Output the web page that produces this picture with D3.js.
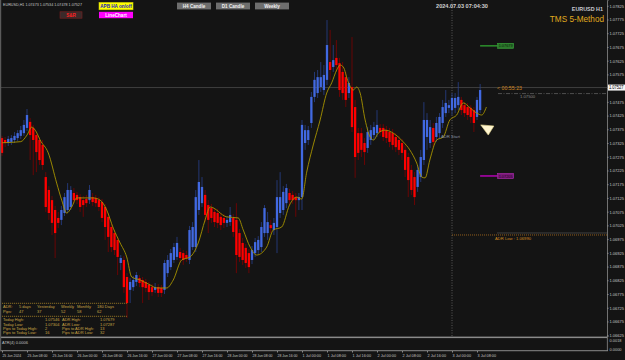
<!DOCTYPE html>
<meta charset="utf-8">
<style>

html, body {
  margin: 0;
  overflow: hidden;
  padding: 0;
  background: #141414;
}

svg {
  display: block;
}

text {
  font-family: "Liberation Sans", Arial, sans-serif;
}

</style>
<svg width="625" height="360"></svg>
<script src="https://d3js.org/d3.v7.min.js"></script>
<script>

// EURUSD H1 bars (APB / Heikin Ashi style), 25 Jun 00:00 .. 3 Jul 09:00
var barOpen = [1.07343,1.07336,1.07325,1.07329,1.07336,1.07343,1.07351,1.07361,1.07380,1.07402,
  1.07380,1.07354,1.07336,1.07318,1.07201,1.07154,1.07117,1.07081,1.07052,1.07045,
  1.07070,1.07081,1.07092,1.07143,1.07136,1.07128,1.07117,1.07121,1.07117,1.07128,
  1.07125,1.07117,1.07110,1.07092,1.07056,1.07019,1.06997,1.06972,1.06888,1.06899,
  1.06837,1.06790,1.06800,1.06819,1.06833,1.06826,1.06819,1.06808,1.06800,1.06790,
  1.06800,1.06797,1.06790,1.06851,1.06873,1.06899,1.06910,1.06928,1.06924,1.06917,
  1.06899,1.06946,1.06946,1.07081,1.07106,1.07136,1.07099,1.07088,1.07074,1.07070,
  1.07056,1.07052,1.07034,1.07037,1.07052,1.07045,1.06997,1.06961,1.06943,1.06924,
  1.06899,1.06924,1.06935,1.06946,1.06997,1.06997,1.07026,1.07008,1.07019,1.07070,
  1.07081,1.07106,1.07143,1.07136,1.07128,1.07117,1.07128,1.07325,1.07336,1.07398,
  1.07493,1.07507,1.07529,1.07518,1.07555,1.07620,1.07602,1.07635,1.07616,1.07584,
  1.07565,1.07507,1.07529,1.07456,1.07361,1.07361,1.07325,1.07307,1.07336,1.07354,
  1.07361,1.07380,1.07380,1.07372,1.07365,1.07361,1.07347,1.07336,1.07325,1.07300,
  1.07274,1.07227,1.07201,1.07165,1.07201,1.07263,1.07347,1.07325,1.07380,1.07347,
  1.07361,1.07398,1.07434,1.07453,1.07445,1.07453,1.07463,1.07482,1.07463,1.07456,
  1.07453,1.07445,1.07420,1.07445];
var barHigh = [1.07351,1.07347,1.07351,1.07354,1.07365,1.07372,1.07387,1.07409,1.07449,1.07416,
  1.07391,1.07365,1.07347,1.07336,1.07219,1.07168,1.07132,1.07096,1.07074,1.07096,
  1.07143,1.07179,1.07168,1.07161,1.07147,1.07139,1.07132,1.07136,1.07172,1.07143,
  1.07136,1.07128,1.07121,1.07103,1.07070,1.07034,1.07008,1.06983,1.06917,1.06913,
  1.06851,1.06833,1.06841,1.06855,1.06844,1.06837,1.06830,1.06819,1.06811,1.06815,
  1.06811,1.06808,1.06899,1.06917,1.06939,1.06961,1.06983,1.06943,1.06935,1.06932,
  1.07023,1.07037,1.07154,1.07263,1.07201,1.07154,1.07117,1.07103,1.07088,1.07085,
  1.07070,1.07066,1.07059,1.07092,1.07066,1.07106,1.07012,1.06979,1.06957,1.06939,
  1.06950,1.06979,1.06986,1.07037,1.07099,1.07074,1.07045,1.07052,1.07190,1.07219,
  1.07168,1.07176,1.07158,1.07150,1.07143,1.07143,1.07409,1.07391,1.07387,1.07511,
  1.07584,1.07591,1.07620,1.07609,1.07773,1.07737,1.07682,1.07700,1.07635,1.07620,
  1.07584,1.07565,1.07711,1.07482,1.07380,1.07380,1.07343,1.07383,1.07391,1.07402,
  1.07445,1.07394,1.07394,1.07387,1.07380,1.07376,1.07361,1.07351,1.07340,1.07318,
  1.07289,1.07245,1.07219,1.07245,1.07300,1.07474,1.07434,1.07409,1.07398,1.07420,
  1.07434,1.07482,1.07518,1.07482,1.07507,1.07507,1.07547,1.07493,1.07474,1.07471,
  1.07463,1.07456,1.07493,1.07540];
var barLow = [1.07278,1.07310,1.07314,1.07318,1.07325,1.07332,1.07340,1.07351,1.07369,1.07263,
  1.07208,1.07219,1.07245,1.07227,1.07074,1.07045,1.06990,1.06906,1.07015,1.07026,
  1.07059,1.07070,1.07081,1.07106,1.07103,1.07074,1.07056,1.07092,1.07103,1.07096,
  1.07092,1.07077,1.07037,1.06972,1.06928,1.06928,1.06917,1.06844,1.06862,1.06779,
  1.06688,1.06742,1.06786,1.06804,1.06800,1.06742,1.06782,1.06753,1.06768,1.06779,
  1.06764,1.06764,1.06775,1.06837,1.06862,1.06888,1.06899,1.06892,1.06881,1.06892,
  1.06884,1.06935,1.06928,1.07063,1.07092,1.07037,1.06997,1.07034,1.07019,1.07015,
  1.07008,1.07015,1.07019,1.07023,1.06983,1.06851,1.06892,1.06881,1.06870,1.06851,
  1.06884,1.06910,1.06921,1.06928,1.06983,1.06972,1.06997,1.06990,1.06924,1.07052,
  1.07063,1.07088,1.07099,1.07103,1.07056,1.07081,1.07081,1.07300,1.07318,1.07380,
  1.07474,1.07489,1.07511,1.07500,1.07536,1.07555,1.07584,1.07584,1.07493,1.07482,
  1.07456,1.07489,1.07365,1.07198,1.07263,1.07274,1.07245,1.07289,1.07318,1.07336,
  1.07347,1.07351,1.07332,1.07325,1.07310,1.07300,1.07292,1.07281,1.07263,1.07201,
  1.07128,1.07136,1.07099,1.07147,1.07183,1.07245,1.07300,1.07307,1.07310,1.07329,
  1.07343,1.07380,1.07420,1.07434,1.07427,1.07434,1.07445,1.07427,1.07420,1.07409,
  1.07398,1.07365,1.07409,1.07434];
var barClose = [1.07289,1.07325,1.07340,1.07343,1.07351,1.07361,1.07372,1.07391,1.07427,1.07354,
  1.07336,1.07292,1.07263,1.07245,1.07092,1.07070,1.07034,1.06997,1.07034,1.07081,
  1.07128,1.07154,1.07154,1.07117,1.07117,1.07092,1.07099,1.07106,1.07154,1.07110,
  1.07106,1.07092,1.07052,1.07019,1.06983,1.06946,1.06935,1.06910,1.06906,1.06800,
  1.06742,1.06819,1.06826,1.06844,1.06815,1.06800,1.06797,1.06782,1.06782,1.06800,
  1.06779,1.06779,1.06888,1.06899,1.06924,1.06946,1.06961,1.06906,1.06899,1.06906,
  1.07008,1.07019,1.07128,1.07183,1.07165,1.07063,1.07045,1.07052,1.07037,1.07034,
  1.07026,1.07034,1.07045,1.07063,1.07001,1.06917,1.06910,1.06899,1.06888,1.06873,
  1.06935,1.06964,1.06972,1.07019,1.07088,1.07037,1.07015,1.07034,1.07128,1.07128,
  1.07147,1.07161,1.07117,1.07117,1.07117,1.07128,1.07391,1.07372,1.07372,1.07493,
  1.07555,1.07565,1.07565,1.07573,1.07682,1.07591,1.07627,1.07609,1.07518,1.07507,
  1.07482,1.07544,1.07383,1.07274,1.07289,1.07300,1.07292,1.07365,1.07372,1.07383,
  1.07391,1.07365,1.07347,1.07343,1.07329,1.07318,1.07310,1.07300,1.07289,1.07227,
  1.07190,1.07154,1.07128,1.07227,1.07274,1.07409,1.07409,1.07383,1.07329,1.07398,
  1.07420,1.07456,1.07471,1.07463,1.07489,1.07489,1.07493,1.07445,1.07434,1.07427,
  1.07420,1.07398,1.07482,1.07518];

// moving average read at key bars
var maBar = [0,6,8,9.5,11,12.2,14.8,17.5,19.1,20.7,22.3,23.9,29.2,31.4,33.5,35.6,37.8,39.9,41.5,44.2,
  47.4,49.5,52.7,54.8,57.5,60.2,62.8,65,66.6,71.9,75.6,77.2,79.4,81.5,84.7,86.8,89.5,92,94.3,95.9,
  97.5,99.6,101.8,103.9,105.5,107.1,108.2,109.2,110.8,112.4,113.5,114.6,116.2,117.8,118.9,120.4,122.6,125.2,128.4,130.5,
  132.7,134.3,135.4,136.9,139.1,141.2,143.3,145.5,147.6,149.8,151.9,153.5,155];
var maPrice = [1.07326,1.07330,1.07354,1.07383,1.07365,1.07336,1.07289,1.07179,1.07117,1.07070,1.07092,1.07125,1.07125,1.07117,1.07081,1.07015,1.06961,1.06910,1.06837,1.06826,
  1.06808,1.06797,1.06797,1.06826,1.06899,1.06910,1.06961,1.07045,1.07092,1.07056,1.07052,1.07008,1.06946,1.06917,1.06946,1.07008,1.07019,1.07099,1.07128,1.07121,
  1.07219,1.07318,1.07409,1.07507,1.07544,1.07591,1.07609,1.07602,1.07547,1.07518,1.07529,1.07507,1.07409,1.07347,1.07336,1.07361,1.07372,1.07361,1.07329,1.07300,
  1.07252,1.07201,1.07198,1.07263,1.07336,1.07347,1.07409,1.07427,1.07471,1.07453,1.07434,1.07427,1.07456];

var timeLabels = ["25 Jun 2024","25 Jun 08:00","25 Jun 16:00","26 Jun 00:00","26 Jun 08:00","26 Jun 16:00",
  "27 Jun 00:00","27 Jun 08:00","27 Jun 16:00","28 Jun 00:00","28 Jun 08:00","28 Jun 16:00",
  "1 Jul 00:00","1 Jul 08:00","1 Jul 16:00","2 Jul 00:00","2 Jul 08:00","2 Jul 16:00","3 Jul 00:00","3 Jul 08:00"];
var priceTicks = [1.06625,1.06675,1.06725,1.06775,1.06825,1.06875,1.06925,1.06975,1.07025,1.07075,
  1.07125,1.07175,1.07225,1.07275,1.07325,1.07375,1.07425,1.07475,1.07525,1.07575,
  1.07625,1.07675,1.07725,1.07775,1.07825];

var bidPrice = 1.07527;
var adrHigh = 1.07679;
var lowMark = 1.07205;
var adrLowLine = 1.06990;
var levelLine = 1.07505;
var adrStartBar = 144;

var adrHead = ["ADR:", "5 days", "Yesterday", "Weekly", "Monthly", "180 Days"];
var adrPips = ["Pips:", "47", "37", "52", "58", "62"];
var adrRows = [
  ["Today High:", "1.07546", "ADR High:", "1.07679"],
  ["Today Low:", "1.07304", "ADR Low:", "1.07287"],
  ["Pips to Today High:", "2", "Pips to ADR High:", "13"],
  ["Pips to Today Low:", "16", "Pips to ADR Low:", "32"]
];

var svg = d3.select("svg");
var W = 625, plotRight = 607, plotBottom = 337;

var x = d3.scaleLinear().domain([0, 152]).range([2, 477]);
var y = d3.scaleLinear().domain([1.06622, 1.07846]).range([336, 0]);

svg.append("rect").attr("width", W).attr("height", 360).attr("fill", "#141414");

svg.append("defs").append("clipPath").attr("id", "plot")
  .append("rect").attr("x", 0).attr("y", 0).attr("width", plotRight).attr("height", plotBottom);

var plot = svg.append("g").attr("clip-path", "url(#plot)");

// bid line
plot.append("line")
  .attr("x1", 0).attr("x2", plotRight)
  .attr("y1", y(bidPrice)).attr("y2", y(bidPrice))
  .attr("stroke", "#4a4a4a").attr("stroke-width", 0.8);

// day separator / ADR start
plot.append("line")
  .attr("x1", x(adrStartBar)).attr("x2", x(adrStartBar))
  .attr("y1", 0).attr("y2", 351)
  .attr("stroke", "#777").attr("stroke-width", 0.7)
  .attr("stroke-dasharray", "1,1.5");

var idx = d3.range(barOpen.length);
function isUp(i) { return barClose[i] >= barOpen[i]; }

plot.selectAll("line.wick")
  .data(idx)
  .join("line")
    .attr("class", "wick")
    .attr("x1", function(i) { return x(i); })
    .attr("x2", function(i) { return x(i); })
    .attr("y1", function(i) { return y(barHigh[i]); })
    .attr("y2", function(i) { return y(barLow[i]); })
    .attr("stroke", function(i) { return isUp(i) ? "#27408b" : "#7c0000"; })
    .attr("stroke-width", 0.8);

plot.selectAll("rect.body")
  .data(idx)
  .join("rect")
    .attr("class", "body")
    .attr("x", function(i) { return x(i) - 1.15; })
    .attr("width", 2.3)
    .attr("y", function(i) { return y(Math.max(barOpen[i], barClose[i])); })
    .attr("height", function(i) { return Math.max(0.8, Math.abs(y(barOpen[i]) - y(barClose[i]))); })
    .attr("fill", function(i) { return isUp(i) ? "#4169e1" : "#ff0000"; });

var ma = d3.line()
  .x(function(d, k) { return x(maBar[k]); })
  .y(function(d) { return y(d); })
  .curve(d3.curveMonotoneX);

plot.append("path")
  .attr("d", ma(maPrice))
  .attr("fill", "none")
  .attr("stroke", "#a89400")
  .attr("stroke-width", 0.9);

// ADR markers on the right
plot.append("line")
  .attr("x1", x(153)).attr("x2", x(158.6))
  .attr("y1", y(adrHigh)).attr("y2", y(adrHigh))
  .attr("stroke", "#2e9a2e").attr("stroke-width", 1.4);
plot.append("rect")
  .attr("x", x(158.6)).attr("y", y(adrHigh) - 2.6).attr("width", 16).attr("height", 5.2)
  .attr("fill", "#2c7a2c").attr("stroke", "#3fae3f").attr("stroke-width", 0.5);
plot.append("text")
  .attr("x", x(158.6) + 8).attr("y", y(adrHigh) + 1.6)
  .attr("text-anchor", "middle").attr("font-size", 4.4).attr("fill", "#0a1a0a")
  .attr("textLength", 14).attr("lengthAdjust", "spacingAndGlyphs")
  .text(adrHigh.toFixed(5));

plot.append("line")
  .attr("x1", x(153)).attr("x2", x(158.6))
  .attr("y1", y(lowMark)).attr("y2", y(lowMark))
  .attr("stroke", "#c000c0").attr("stroke-width", 1.4);
plot.append("rect")
  .attr("x", x(158.6)).attr("y", y(lowMark) - 2.6).attr("width", 16).attr("height", 5.2)
  .attr("fill", "#7a1a7a").attr("stroke", "#c030c0").attr("stroke-width", 0.5);
plot.append("text")
  .attr("x", x(158.6) + 8).attr("y", y(lowMark) + 1.6)
  .attr("text-anchor", "middle").attr("font-size", 4.4).attr("fill", "#1a001a")
  .attr("textLength", 14).attr("lengthAdjust", "spacingAndGlyphs")
  .text(lowMark.toFixed(5));

// ADR low line
plot.append("line")
  .attr("x1", x(adrStartBar)).attr("x2", plotRight)
  .attr("y1", y(adrLowLine)).attr("y2", y(adrLowLine))
  .attr("stroke", "#b07020").attr("stroke-width", 0.8)
  .attr("stroke-dasharray", "1,1");
plot.append("line")
  .attr("x1", 497).attr("x2", plotRight)
  .attr("y1", y(adrLowLine) - 2).attr("y2", y(adrLowLine) - 2)
  .attr("stroke", "#555").attr("stroke-width", 0.7);
plot.append("text")
  .attr("x", 495).attr("y", y(adrLowLine) + 5)
  .attr("font-size", 4.4).attr("fill", "#d08a20")
  .attr("textLength", 36).attr("lengthAdjust", "spacingAndGlyphs")
  .text("ADR Low : " + adrLowLine.toFixed(5));

// level line near price
plot.append("line")
  .attr("x1", 498).attr("x2", plotRight)
  .attr("y1", y(levelLine)).attr("y2", y(levelLine))
  .attr("stroke", "#777").attr("stroke-width", 0.6)
  .attr("stroke-dasharray", "4,1.5,1,1.5");
plot.append("text")
  .attr("x", 520).attr("y", y(levelLine) + 4.5)
  .attr("font-size", 4.2).attr("fill", "#8a8a8a")
  .text("1.07500");

plot.append("text")
  .attr("x", 497).attr("y", y(bidPrice) + 2.5)
  .attr("font-size", 5).attr("fill", "#d2861e")
  .attr("textLength", 25).attr("lengthAdjust", "spacingAndGlyphs")
  .text("< 00:55:23");

plot.append("text")
  .attr("x", x(adrStartBar) - 11).attr("y", 137.5)
  .attr("font-size", 4.2).attr("fill", "#8a93a6")
  .attr("textLength", 19).attr("lengthAdjust", "spacingAndGlyphs")
  .text("ADR Start");

// arrow marker
plot.append("polygon")
  .attr("points", [[x(153.2), y(1.07391)], [x(157.4), y(1.07387)], [x(155.6), y(1.07354)]].join(" "))
  .attr("fill", "#fff6d0").attr("stroke", "#e8d890").attr("stroke-width", 0.6);

// ADR table
var tbl = svg.append("g").attr("font-size", 4).attr("fill", "#c9a646");
[303.3, 316.3].forEach(function(yy) {
  tbl.append("line").attr("x1", 2).attr("x2", 127).attr("y1", yy).attr("y2", yy)
    .attr("stroke", "#b8902a").attr("stroke-width", 0.7).attr("stroke-dasharray", "1.2,0.8");
});
var headX = [3, 19, 37, 61, 77, 97];
adrHead.forEach(function(t, k) { tbl.append("text").attr("x", headX[k]).attr("y", 308.3).text(t); });
adrPips.forEach(function(t, k) { tbl.append("text").attr("x", headX[k]).attr("y", 312.6).text(t); });
var rowX = [3, 45, 62, 100];
adrRows.forEach(function(r, j) {
  r.forEach(function(t, k) {
    tbl.append("text").attr("x", rowX[k]).attr("y", 321.3 + j * 4.3).text(t);
  });
});

// right price axis
var yAxis = svg.append("g")
  .attr("transform", "translate(" + plotRight + ",0)")
  .call(d3.axisRight(y).tickValues(priceTicks).tickSize(1.5).tickPadding(1).tickFormat(d3.format(".5f")));
yAxis.select(".domain").attr("stroke", "#8a8a8a").attr("stroke-width", 0.8);
yAxis.selectAll(".tick line").attr("stroke", "#8a8a8a");
yAxis.selectAll(".tick text").attr("font-size", 4.4).attr("fill", "#c4c4c4")
  .attr("textLength", 14.5).attr("lengthAdjust", "spacingAndGlyphs")
  .attr("font-family", "Liberation Sans, Arial, sans-serif");

svg.append("rect")
  .attr("x", plotRight + 1).attr("y", y(bidPrice) - 3).attr("width", 17).attr("height", 6)
  .attr("fill", "#f4f4f4");
svg.append("text")
  .attr("x", plotRight + 2).attr("y", y(bidPrice) + 1.7)
  .attr("font-size", 4.6).attr("fill", "#000")
  .attr("textLength", 14.5).attr("lengthAdjust", "spacingAndGlyphs")
  .text(bidPrice.toFixed(5));

// indicator sub-window
svg.append("rect").attr("x", 0).attr("y", 336.6).attr("width", plotRight).attr("height", 1.5).attr("fill", "#8a8a8a");
svg.append("rect").attr("x", 0).attr("y", 350.2).attr("width", plotRight + 1).attr("height", 1).attr("fill", "#8a8a8a");
svg.append("line").attr("x1", plotRight + 0.4).attr("x2", plotRight + 0.4).attr("y1", 336).attr("y2", 351)
  .attr("stroke", "#8a8a8a").attr("stroke-width", 0.8);
svg.append("text").attr("x", 2).attr("y", 344).attr("font-size", 4.4).attr("fill", "#c0c0c0")
  .attr("textLength", 26).attr("lengthAdjust", "spacingAndGlyphs").text("ATR(4) 0.0006");
svg.append("text").attr("x", plotRight + 2.5).attr("y", 342).attr("font-size", 4.4).attr("fill", "#c0c0c0")
  .attr("textLength", 12).attr("lengthAdjust", "spacingAndGlyphs").text("0.0018");
svg.append("text").attr("x", plotRight + 2.5).attr("y", 350.5).attr("font-size", 4.4).attr("fill", "#c0c0c0")
  .attr("textLength", 12).attr("lengthAdjust", "spacingAndGlyphs").text("0.0000");

// time axis
var tickBars = timeLabels.map(function(d, k) { return k * 8; });
var xAxis = svg.append("g")
  .attr("transform", "translate(0,351)")
  .call(d3.axisBottom(x).tickValues(tickBars).tickSize(1.5).tickPadding(1)
    .tickFormat(function(d, k) { return timeLabels[k]; }));
xAxis.select(".domain").remove();
xAxis.selectAll(".tick line").attr("stroke", "#8a8a8a");
xAxis.selectAll(".tick text").attr("font-size", 4.4).attr("fill", "#c4c4c4")
  .attr("text-anchor", "start").attr("font-family", "Liberation Sans, Arial, sans-serif")
  .attr("textLength", function(d, k) { return timeLabels[k].length > 11 ? 20 : 18.5; })
  .attr("lengthAdjust", "spacingAndGlyphs");

// left border
svg.append("rect").attr("x", 0).attr("y", 0).attr("width", 1.2).attr("height", 351).attr("fill", "#5a5a5a");

// header texts
svg.append("text").attr("x", 3).attr("y", 6.3).attr("font-size", 4.4).attr("fill", "#c8c8c8")
  .attr("textLength", 79).attr("lengthAdjust", "spacingAndGlyphs")
  .text("EURUSD,H1  1.07473 1.07534 1.07478 1.07527");

function button(bx, by, bw, bh, bg, fg, label, stroke) {
  svg.append("rect").attr("x", bx).attr("y", by).attr("width", bw).attr("height", bh)
    .attr("fill", bg).attr("stroke", stroke || "none").attr("stroke-width", 0.6);
  svg.append("text").attr("x", bx + bw / 2).attr("y", by + bh / 2 + 1.6)
    .attr("text-anchor", "middle").attr("font-size", 4.6).attr("font-weight", "bold")
    .attr("fill", fg).text(label);
}
button(99, 2.4, 34, 7.4, "#ffff00", "#2020c0", "APB HA on/off", "#c8c800");
button(60, 11.8, 22, 6.4, "#3a2a2a", "#ff2020", "S&R", "#7a2020");
button(99, 11.8, 34, 6.4, "#ff00ff", "#ffffff", "LineChart");
button(177, 2.6, 34, 6.8, "#6e6e6e", "#f0f0f0", "H4 Candle");
button(216, 2.6, 34, 6.8, "#6e6e6e", "#f0f0f0", "D1 Candle");
button(255, 2.6, 34, 6.8, "#6e6e6e", "#f0f0f0", "Weekly");

svg.append("text").attr("x", 462).attr("y", 7.8).attr("text-anchor", "middle")
  .attr("font-size", 5.6).attr("font-weight", "bold").attr("fill", "#d0d0d0")
  .text("2024.07.03 07:04:30");
svg.append("text").attr("x", 603).attr("y", 10.6).attr("text-anchor", "end")
  .attr("font-size", 5.4).attr("font-weight", "bold").attr("fill", "#c8c8d0")
  .text("EURUSD H1");
svg.append("text").attr("x", 604).attr("y", 21.5).attr("text-anchor", "end")
  .attr("font-size", 8.2).attr("fill", "#e0aa1e")
  .text("TMS 5-Method");

</script>
